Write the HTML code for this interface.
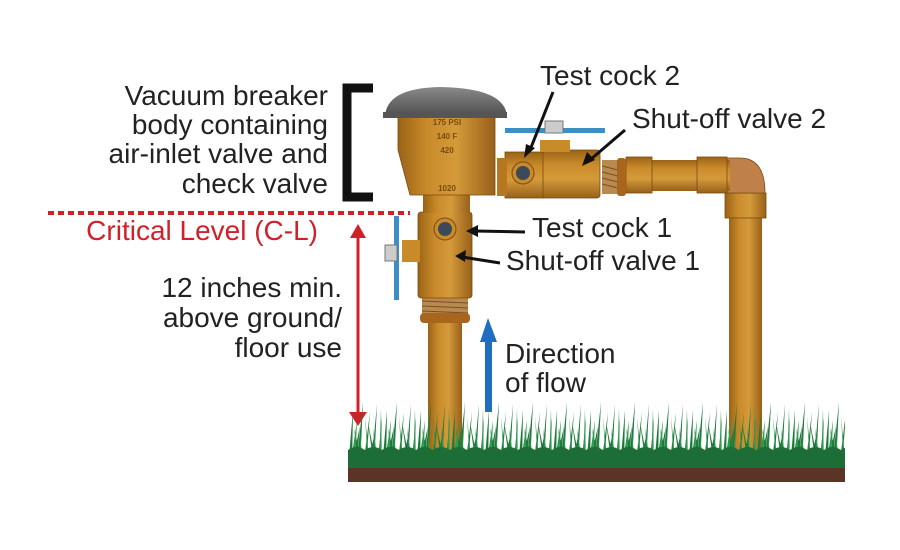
<!DOCTYPE html>
<html><head><meta charset="utf-8"><style>
body{margin:0;background:#fff;}
svg{display:block;}
text{font-family:"Liberation Sans",Arial,sans-serif;}
</style></head><body>
<svg width="900" height="550" viewBox="0 0 900 550" xmlns="http://www.w3.org/2000/svg">
<defs>
<linearGradient id="pv" x1="0" x2="1" y1="0" y2="0">
<stop offset="0" stop-color="#9a6316"/><stop offset="0.3" stop-color="#c98a2a"/><stop offset="0.6" stop-color="#d49a3a"/><stop offset="1" stop-color="#98601a"/></linearGradient>
<linearGradient id="ph" x1="0" x2="0" y1="0" y2="1">
<stop offset="0" stop-color="#9a6316"/><stop offset="0.3" stop-color="#c98a2a"/><stop offset="0.6" stop-color="#d49a3a"/><stop offset="1" stop-color="#98601a"/></linearGradient>
<linearGradient id="cap" x1="0" x2="0" y1="0" y2="1">
<stop offset="0" stop-color="#8a8a8a"/><stop offset="1" stop-color="#4a4a4a"/></linearGradient>
<pattern id="grass" x="348" y="398" width="34" height="70" patternUnits="userSpaceOnUse">
<path d="M0 70 L5 12 L4 70Z M3 70 L12 28 L8 70Z M8 70 L15 4 L12 70Z M11 70 L6 30 L15 70Z M15 70 L22 14 L18 70Z M19 70 L27 34 L22 70Z M23 70 L29 6 L26 70Z M26 70 L20 24 L29 70Z M29 70 L34 20 L32 70Z" fill="#1f7a3c"/>
<path d="M2 70 L9 22 L7 70Z M13 70 L12 38 L16 70Z M20 70 L17 18 L22 70Z M28 70 L25 30 L31 70Z M31 70 L33 10 L34 70Z" fill="#2f9a50"/>
<path d="M0 70 L0 52 Q8 46 17 52 Q25 46 34 52 L34 70Z" fill="#1c6e36"/>
</pattern>
</defs>

<g font-size="28" fill="#222" text-anchor="end">
<text x="328" y="105">Vacuum breaker</text>
<text x="328" y="134">body containing</text>
<text x="328" y="163">air-inlet valve and</text>
<text x="328" y="193">check valve</text>
<text x="342" y="297">12 inches min.</text>
<text x="342" y="327">above ground/</text>
<text x="342" y="357">floor use</text>
</g>
<text x="318" y="240" font-size="28" fill="#d0202a" text-anchor="end">Critical Level (C-L)</text>
<path d="M373 88 H347 V197 H373" fill="none" stroke="#111" stroke-width="9"/>
<line x1="48" y1="213" x2="410" y2="213" stroke="#d0202a" stroke-width="4" stroke-dasharray="6 4"/>
<line x1="358" y1="235" x2="358" y2="415" stroke="#d0202a" stroke-width="3"/>
<path d="M350 238 L358 224 L366 238Z M349 412 L358 426 L367 412Z" fill="#d0202a"/>

<rect x="729" y="200" width="33" height="265" fill="url(#pv)"/>
<rect x="725" y="193" width="41" height="25" fill="url(#pv)" stroke="#7a4a10" stroke-width="0.8"/>
<path d="M725 158 H740 Q765 158 765 193 H725Z" fill="#c0804a" stroke="#7a4a10" stroke-width="0.8"/>
<rect x="625" y="160" width="105" height="31" fill="url(#ph)"/>
<rect x="626" y="157" width="26" height="36" fill="url(#ph)" stroke="#7a4a10" stroke-width="0.8"/>
<rect x="697" y="157" width="30" height="36" fill="url(#ph)" stroke="#7a4a10" stroke-width="0.8"/>
<rect x="602" y="160" width="16" height="34" fill="#b88a50"/>
<g stroke="#7a5020" stroke-width="1"><line x1="602" y1="166" x2="618" y2="170"/><line x1="602" y1="172" x2="618" y2="176"/><line x1="602" y1="178" x2="618" y2="182"/><line x1="602" y1="184" x2="618" y2="188"/></g>
<rect x="617" y="158" width="9" height="38" rx="3" fill="#a8651e"/>
<rect x="540" y="150" width="60" height="48" rx="3" fill="url(#ph)" stroke="#7a4a10" stroke-width="0.8"/>
<rect x="505" y="152" width="38" height="46" fill="url(#ph)" stroke="#7a4a10" stroke-width="0.8"/>
<rect x="540" y="140" width="30" height="12" fill="#c98a2a"/>
<circle cx="523" cy="173" r="11" fill="#c98a2a" stroke="#7a4a10"/>
<circle cx="523" cy="173" r="7" fill="#3a4a5a"/>
<rect x="497" y="158" width="10" height="38" fill="#b57820"/>
<rect x="505" y="128" width="100" height="5" fill="#3a8fc4"/>
<rect x="545" y="121" width="18" height="12" fill="#ccc" stroke="#777"/>

<rect x="428" y="320" width="34" height="145" fill="url(#pv)"/>
<rect x="422" y="296" width="46" height="20" fill="#b88a50"/>
<g stroke="#7a5020" stroke-width="1"><line x1="422" y1="301" x2="468" y2="303"/><line x1="422" y1="306" x2="468" y2="308"/><line x1="422" y1="311" x2="468" y2="313"/></g>
<rect x="420" y="313" width="50" height="10" rx="4" fill="#a8651e"/>
<rect x="418" y="212" width="54" height="86" rx="3" fill="url(#pv)" stroke="#7a4a10" stroke-width="0.8"/>
<rect x="423" y="195" width="47" height="18" fill="url(#pv)"/>
<circle cx="445" cy="229" r="11" fill="#c98a2a" stroke="#7a4a10"/>
<circle cx="445" cy="229" r="7" fill="#3a4a5a"/>
<rect x="402" y="240" width="18" height="22" fill="#c98a2a"/>
<rect x="394" y="216" width="5" height="84" fill="#3a8fc4"/>
<rect x="385" y="245" width="12" height="16" fill="#ccc" stroke="#777"/>
<path d="M398 117 H495 V195 H410 L398 150Z" fill="url(#pv)" stroke="#7a4a10" stroke-width="0.8"/>
<g font-size="8" font-weight="bold" fill="#7a4a10" text-anchor="middle">
<text x="447" y="125">175 PSI</text><text x="447" y="139">140 F</text><text x="447" y="153">420</text><text x="447" y="191">1020</text></g>
<path d="M385 118 Q385 88 440 87 Q507 88 507 118Z" fill="url(#cap)"/>
<rect x="383" y="112" width="124" height="6" fill="#555"/>

<g stroke="#111" stroke-width="3">
<line x1="553" y1="92" x2="530" y2="150"/><line x1="625" y1="130" x2="590" y2="160"/>
<line x1="525" y1="232" x2="475" y2="231"/><line x1="500" y1="263" x2="462" y2="257"/></g>
<path d="M524 158 L526 144 L535 148Z M582 166 L587 152 L595 160Z M466 231 L478 225 L478 237Z M455 256 L466 250 L465 262Z" fill="#111"/>
<g font-size="28" fill="#222">
<text x="540" y="85">Test cock 2</text>
<text x="632" y="128">Shut-off valve 2</text>
<text x="532" y="237">Test cock 1</text>
<text x="506" y="270">Shut-off valve 1</text>
<text x="505" y="363">Direction</text>
<text x="505" y="392">of flow</text>
</g>
<rect x="485" y="340" width="7" height="72" fill="#1f6ec0"/>
<path d="M480 342 L488 318 L497 342Z" fill="#1f6ec0"/>

<rect x="348" y="458" width="497" height="24" fill="#5a3426"/>
<rect x="348" y="398" width="497" height="70" fill="url(#grass)"/>
</svg>
</body></html>
